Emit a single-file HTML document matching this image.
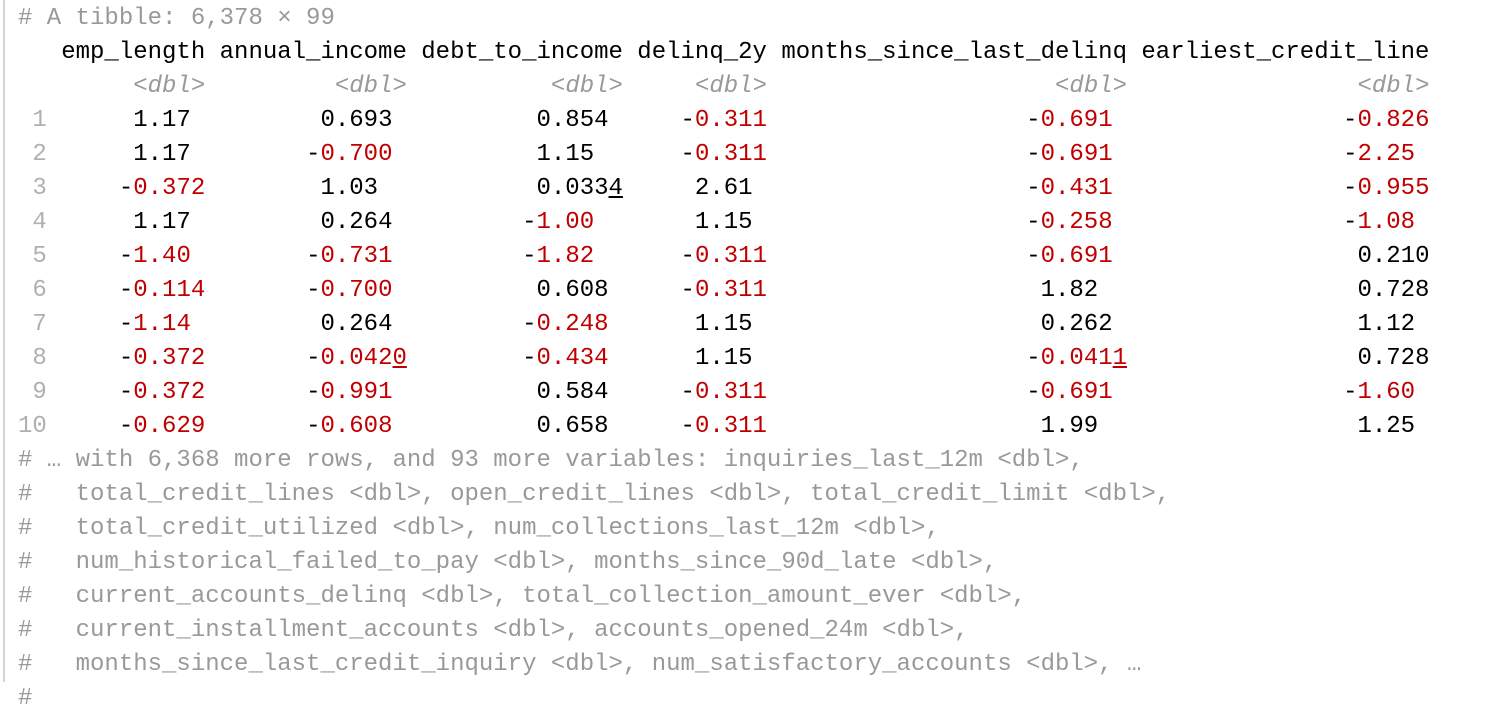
<!DOCTYPE html>
<html><head><meta charset="utf-8">
<style>
html,body{margin:0;padding:0;background:#fff;}
body{width:1508px;height:682px;overflow:hidden;position:relative;font-family:"Liberation Mono","DejaVu Sans Mono",monospace;font-size:24px;}
#border{position:absolute;left:3px;top:0;width:2px;height:682px;background:#d4d4d4;}
.ln{position:absolute;left:18px;height:34px;line-height:34px;white-space:pre;color:#000;}
.g{color:#999;}
.rn{color:#b0b0b0;}
.t{color:#999;font-style:italic;}
.r{color:#c00000;}
.u{text-decoration:underline;}
</style></head>
<body>
<div id="border"></div>
<div id="out"></div>
<script>
const headers = ["emp_length","annual_income","debt_to_income","delinq_2y","months_since_last_delinq","earliest_credit_line"];
const empLength = ["1.17","1.17","-0.372","1.17","-1.40","-0.114","-1.14","-0.372","-0.372","-0.629"];
const annualIncome = ["0.693","-0.700","1.03","0.264","-0.731","-0.700","0.264","-0.0420","-0.991","-0.608"];
const debtToIncome = ["0.854","1.15","0.0334","-1.00","-1.82","0.608","-0.248","-0.434","0.584","0.658"];
const delinq2y = ["-0.311","-0.311","2.61","1.15","-0.311","-0.311","1.15","1.15","-0.311","-0.311"];
const monthsSinceDelinq = ["-0.691","-0.691","-0.431","-0.258","-0.691","1.82","0.262","-0.0411","-0.691","1.99"];
const earliestCredit = ["-0.826","-2.25","-0.955","-1.08","0.210","0.728","1.12","0.728","-1.60","1.25"];
const footer = [
"# … with 6,368 more rows, and 93 more variables: inquiries_last_12m <dbl>,",
"#   total_credit_lines <dbl>, open_credit_lines <dbl>, total_credit_limit <dbl>,",
"#   total_credit_utilized <dbl>, num_collections_last_12m <dbl>,",
"#   num_historical_failed_to_pay <dbl>, months_since_90d_late <dbl>,",
"#   current_accounts_delinq <dbl>, total_collection_amount_ever <dbl>,",
"#   current_installment_accounts <dbl>, accounts_opened_24m <dbl>,",
"#   months_since_last_credit_inquiry <dbl>, num_satisfactory_accounts <dbl>, …"
];
const cols=[empLength,annualIncome,debtToIncome,delinq2y,monthsSinceDelinq,earliestCredit];
const CW=14.4, LH=34, TOP=2;
const out=document.getElementById('out');
function esc(s){return s.replace(/&/g,'&amp;').replace(/</g,'&lt;').replace(/>/g,'&gt;');}
function addLine(i,html,name){
  const d=document.createElement('div');
  d.className='ln';d.style.top=(TOP+i*LH)+'px';d.innerHTML=html;
  
  
  out.appendChild(d);
}
addLine(0,'<span class="g"># A tibble: 6,378 × 99</span>','tibble-dimensions');
let starts=[],ends=[];let c=3;
headers.forEach(h=>{starts.push(c);ends.push(c+h.length-1);c+=h.length+1;});
let hdr='  ';headers.forEach(h=>{hdr+=' '+h;});
addLine(1,esc(hdr),'column-headers');
let typ='  ';headers.forEach(h=>{typ+=' '+'<span class="t">'+esc('<dbl>'.padStart(h.length))+'</span>';});
addLine(2,typ,'column-types');
const fracMax=cols.map(col=>Math.max(...col.map(v=>v.split('.')[1].length)));
for(let r=0;r<10;r++){
  let html='<span class="rn">'+String(r+1).padStart(2)+'</span>';
  let pos=2;
  cols.forEach((col,ci)=>{
    const v=col[r];const dec=ends[ci]-fracMax[ci];
    const ip=v.split('.')[0];
    const st=dec-ip.length;
    html+=' '.repeat(st-pos);
    const neg=v[0]==='-';const body=neg?v.slice(1):v;
    let main=body,ul='';
    if(body.split('.')[1].length>=4){main=body.slice(0,-1);ul=body.slice(-1);}
    let inner=esc(main)+(ul?'<span class="u">'+ul+'</span>':'');
    html+=(neg?'-<span class="r">'+inner+'</span>':inner);
    pos=st+v.length;
  });
  addLine(3+r,html,'data-row-'+(r+1));
}
footer.forEach((f,i)=>addLine(13+i,'<span class="g">'+esc(f)+'</span>','footer-line-'+(i+1)));
addLine(20,'<span class="g">#</span>','footer-line-8');
</script>
</body></html>
